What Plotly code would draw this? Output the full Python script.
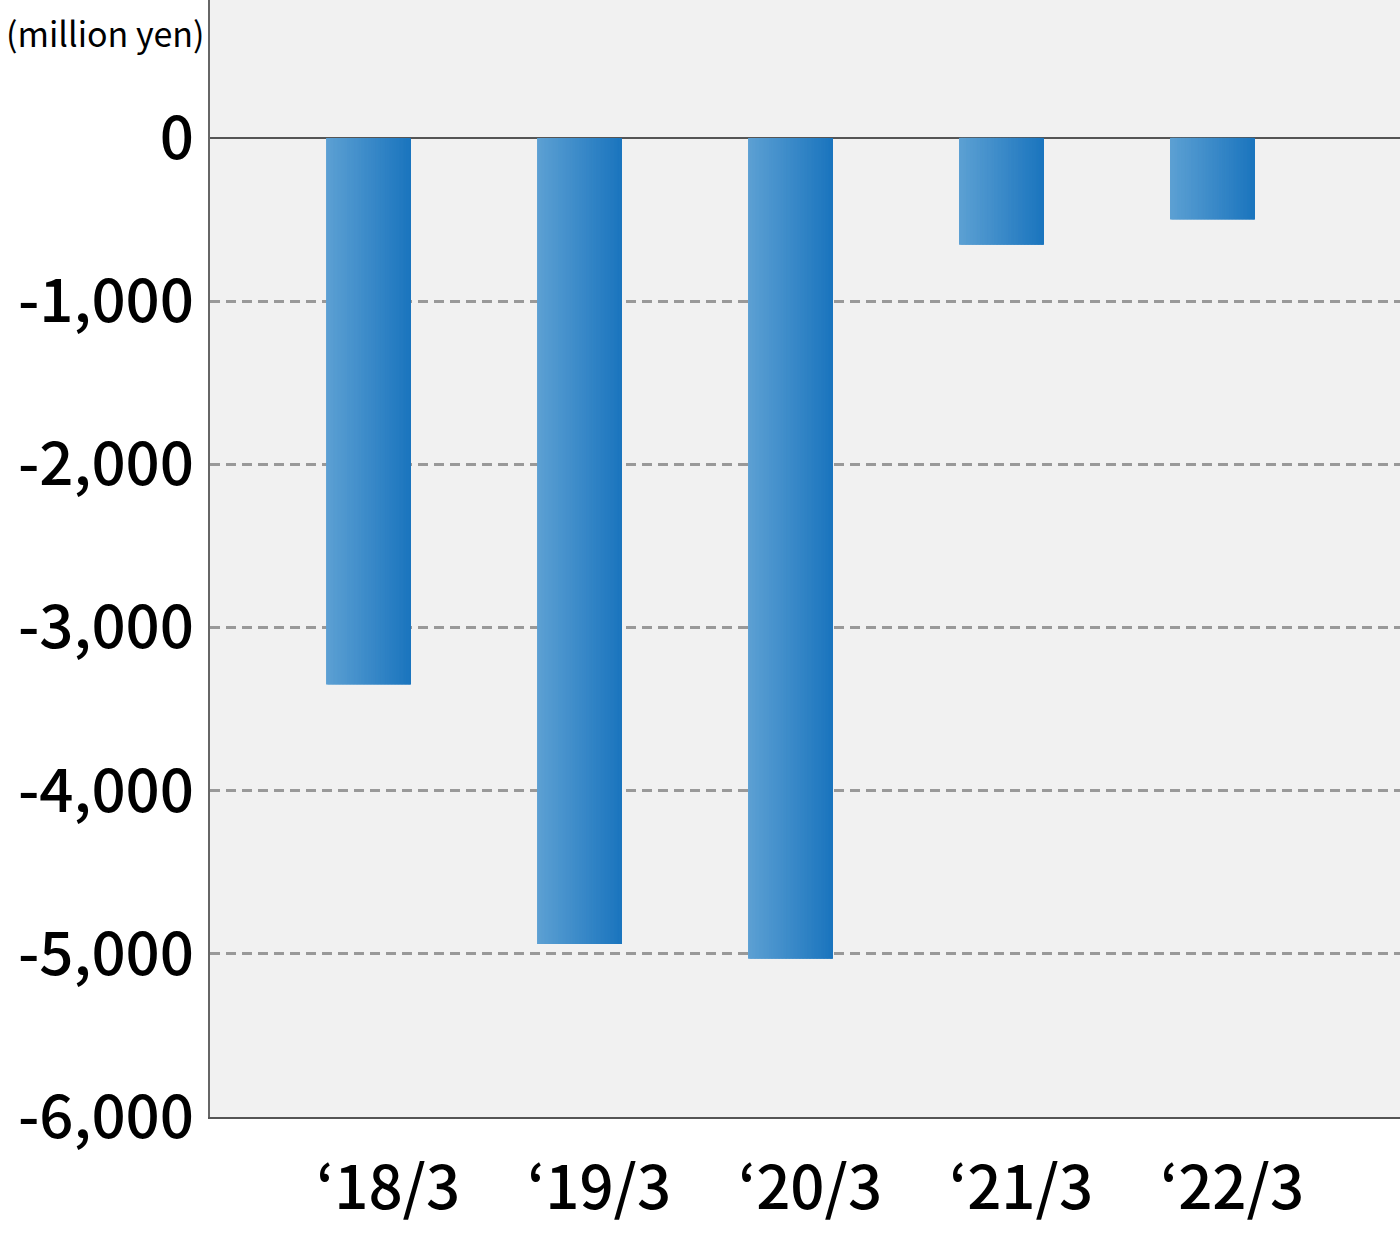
import plotly.graph_objects as go

# fiscal year ends (March), operating result in million yen
periods = ['‘18/3', '‘19/3', '‘20/3', '‘21/3', '‘22/3']
values = [-3350, -4940, -5030, -655, -500]
y_ticks = [0, -1000, -2000, -3000, -4000, -5000, -6000]
y_tick_text = ['0', '-1,000', '-2,000', '-3,000', '-4,000', '-5,000', '-6,000']

FONT = 'Noto Sans CJK JP'
BAR_WIDTH = 0.4
SLICES = 60
LEFT_RGB = (92, 160, 211)
RIGHT_RGB = (27, 117, 190)


def blend(t):
    r, g, b = [round(a + (c - a) * t) for a, c in zip(LEFT_RGB, RIGHT_RGB)]
    return f'rgb({r},{g},{b})'


fig = go.Figure()

# plotly bars have no gradient fill, so each bar is built from thin vertical slices
step = BAR_WIDTH / SLICES
for i in range(SLICES):
    w = step * 2 if i < SLICES - 1 else step
    fig.add_trace(go.Bar(
        x=periods, y=values,
        width=w, offset=-BAR_WIDTH / 2 + i * step,
        marker=dict(color=blend(i / (SLICES - 1)), line_width=0),
        showlegend=False, hoverinfo='skip',
    ))

fig.update_layout(
    width=1400, height=1236,
    barmode='overlay',
    paper_bgcolor='white',
    plot_bgcolor='#f1f1f1',
    margin=dict(l=210, r=0, t=0, b=119),
    font=dict(family=FONT, color='black'),
)

fig.update_xaxes(
    type='category',
    range=[-0.75, 4.89],
    showline=True, linecolor='#555', linewidth=2,
    showgrid=False, ticks='',
    tickfont=dict(size=60, weight=500),
    ticklabelshift=20,
    ticklabelstandoff=18,
)

fig.update_yaxes(
    range=[-6000, 845],
    tickvals=y_ticks, ticktext=y_tick_text,
    tickfont=dict(size=60, weight=500),
    showline=True, linecolor='#666', linewidth=2,
    showgrid=True, gridcolor='#999999', griddash='10px,6px', gridwidth=3,
    zeroline=True, zerolinecolor='#555', zerolinewidth=2,
    ticks='', ticklabelstandoff=2,
    layer='above traces',
)

# unit label above the y tick labels
fig.add_annotation(
    text='(million yen)', x=-105 / 1190, y=1 - 33 / 1117,
    xref='paper', yref='paper', xanchor='center', yanchor='middle',
    showarrow=False, font=dict(size=34, family=FONT),
)

# drop the browser's default page margin so the figure sits at the window corner
fig.write_html('out.html', config={'displayModeBar': False},
               post_script="document.body.style.margin='0';")
